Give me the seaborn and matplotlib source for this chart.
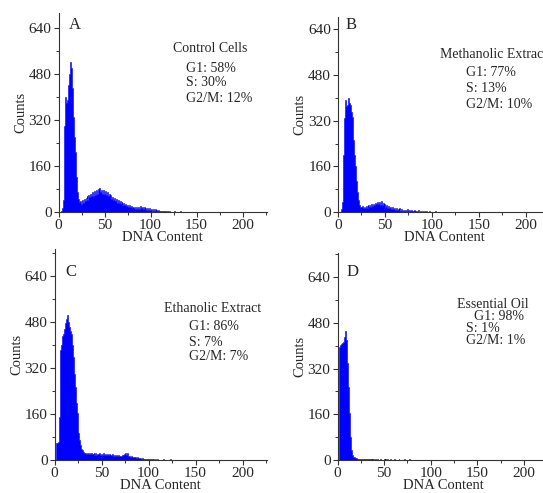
import numpy as np
import pandas as pd
import matplotlib
matplotlib.use("Agg")
import matplotlib.pyplot as plt
from matplotlib.ticker import MultipleLocator
import seaborn as sns

# ---------------- data (counts per DNA-content channel, channels 0..149) ----------------
control_counts = [
    0, 0, 0, 5, 15, 40, 120, 300, 400, 380,
    390, 440, 480, 523, 500, 430, 330, 260, 210, 170,
    120, 70, 45, 35, 38, 28, 42, 33, 46, 38,
    50, 54, 42, 60, 52, 64, 54, 68, 56, 72,
    60, 76, 64, 80, 66, 82, 68, 78, 62, 76,
    64, 74, 58, 68, 55, 62, 49, 58, 45, 52,
    41, 48, 37, 44, 33, 40, 30, 38, 28, 34,
    25, 31, 23, 29, 20, 26, 18, 23, 16, 21,
    14, 19, 13, 18, 12, 17, 11, 19, 12, 21,
    13, 19, 11, 17, 10, 15, 8, 14, 7, 13,
    6, 11, 5, 10, 5, 9, 4, 7, 3, 6,
    3, 4, 3, 3, 2, 3, 2, 2, 1, 2,
    1, 2, 0, 1, 1, 0, 2, 0, 1, 0,
    1, 0, 0, 2, 0, 1, 0, 0, 1, 0,
    0, 1, 0, 0, 1, 0, 0, 0, 1, 0,
]
methanolic_counts = [
    0, 0, 0, 0, 10, 35, 200, 330, 393, 370,
    375, 398, 380, 375, 350, 334, 300, 253, 200, 160,
    110, 70, 43, 25, 20, 18, 22, 15, 20, 14,
    22, 16, 25, 18, 24, 20, 28, 22, 30, 26,
    34, 28, 37, 30, 36, 26, 38, 24, 32, 20,
    28, 18, 25, 16, 22, 14, 20, 12, 18, 10,
    16, 9, 14, 8, 12, 7, 14, 6, 10, 5,
    9, 4, 8, 5, 10, 3, 7, 4, 8, 3,
    6, 2, 9, 3, 5, 2, 7, 1, 4, 2,
    5, 1, 3, 0, 4, 1, 2, 0, 3, 0,
    2, 0, 1, 0, 5, 0, 1, 0, 0, 1,
    0, 0, 1, 0, 0, 0, 0, 1, 0, 0,
    0, 0, 0, 1, 0, 0, 0, 0, 0, 1,
    0, 0, 0, 0, 0, 0, 1, 0, 0, 0,
    0, 0, 0, 0, 0, 0, 0, 0, 0, 0,
]
ethanolic_counts = [
    0, 0, 58, 60, 62, 150, 383, 400, 417, 430,
    440, 455, 475, 490, 504, 480, 464, 450, 440, 400,
    359, 300, 255, 200, 162, 120, 93, 70, 52, 40,
    35, 28, 25, 24, 22, 25, 20, 24, 21, 26,
    22, 20, 24, 19, 23, 18, 22, 20, 25, 18,
    22, 17, 24, 19, 21, 16, 20, 18, 22, 15,
    19, 16, 21, 14, 18, 15, 17, 13, 16, 14,
    15, 13, 18, 16, 22, 20, 24, 19, 23, 15,
    14, 12, 13, 10, 12, 9, 11, 8, 10, 7,
    8, 6, 7, 5, 6, 4, 5, 4, 4, 3,
    3, 3, 2, 3, 2, 2, 1, 2, 1, 1,
    2, 1, 1, 1, 0, 1, 2, 0, 1, 0,
    1, 0, 1, 2, 0, 1, 0, 0, 1, 0,
    0, 1, 0, 0, 1, 0, 0, 1, 0, 0,
    0, 0, 1, 0, 0, 0, 0, 0, 1, 0,
]
oil_counts = [
    0, 0, 396, 402, 405, 408, 412, 420, 430, 450,
    420, 338, 256, 163, 82, 35, 17, 12, 9, 8,
    6, 5, 4, 5, 3, 4, 3, 2, 3, 4,
    3, 2, 3, 2, 2, 3, 2, 1, 2, 2,
    1, 2, 1, 2, 1, 1, 2, 1, 0, 1,
    2, 1, 3, 1, 2, 1, 1, 2, 1, 1,
    1, 2, 1, 1, 0, 1, 2, 1, 1, 0,
    1, 1, 2, 1, 0, 1, 1, 2, 1, 0,
    1, 0, 1, 1, 0, 1, 0, 1, 0, 1,
    0, 1, 0, 1, 0, 0, 1, 0, 1, 0,
    0, 1, 0, 0, 1, 0, 0, 0, 1, 0,
    0, 0, 1, 0, 0, 0, 0, 1, 0, 0,
    0, 1, 0, 0, 0, 0, 1, 0, 0, 0,
    0, 0, 0, 1, 0, 0, 0, 0, 0, 0,
    0, 0, 1, 0, 0, 0, 0, 0, 0, 0,
]

panel_letters = ["A", "B", "C", "D"]
panel_titles = ["Control Cells", "Methanolic Extract", "Ethanolic Extract", "Essential Oil"]
g1_pct = [58, 77, 86, 98]
s_pct = [30, 13, 7, 1]
g2m_pct = [12, 10, 7, 1]
y_ticks = [0, 160, 320, 480, 640]
x_ticks = [0, 50, 100, 150, 200]

# ---------------- figure ----------------
W, H = 543, 493
sns.set_style("ticks")
plt.rcParams["font.family"] = ["Liberation Serif", "DejaVu Serif"]
plt.rcParams["axes.linewidth"] = 0.8

fig = plt.figure(figsize=(W / 100, H / 100), dpi=100)

def fx(px):
    return px / W

def fy(py):
    return 1 - py / H

# axes boxes in pixels: left, x-axis y, top, right ; xlim max, ylim max
boxes = [
    (58.5, 212, 13, 267, 226.6, 692),
    (338, 212.3, 17, 551, 227, 682),
    (54.5, 460, 249, 267, 226, 734),
    (337.5, 460, 253, 549, 227, 724),
]
series = [control_counts, methanolic_counts, ethanolic_counts, oil_counts]

# text positions in pixels: letter (x,y), title (x,y), lines x, lines ys
text_pos = [
    ((69, 25), (173, 48), 186, [68, 83, 98]),
    ((346, 25), (440, 54), 466, [73, 89, 105]),
    ((65, 272), (164, 309), 189, [327, 342, 357]),
    ((347, 272), (457, 304), (474, 466, 466), [316, 328, 341]),
]

for i in range(4):
    l, yb, yt, r, xmax, ymax = boxes[i]
    ax = fig.add_axes([fx(l), fy(yb), fx(r - l), (yb - yt) / H])
    counts = series[i]
    df = pd.DataFrame({"channel": np.arange(len(counts)), "count": counts})
    sns.histplot(data=df, x="channel", weights="count", discrete=True,
                 element="step", fill=True, color="#0000ff", alpha=1,
                 linewidth=0.4, edgecolor="#0000ff", ax=ax)
    ax.set_xlim(0, xmax)
    ax.set_ylim(0, ymax)
    ax.set_xticks(x_ticks)
    ax.set_yticks(y_ticks)
    ax.xaxis.set_minor_locator(MultipleLocator(25))
    ax.yaxis.set_minor_locator(MultipleLocator(80))
    ax.tick_params(which="major", length=3.5, width=0.8, labelsize=11,
                   pad=1.5, color="#333333")
    ax.tick_params(which="minor", length=2, width=0.7, color="#333333")
    for s in ["left", "bottom"]:
        ax.spines[s].set_color("#333333")
    sns.despine(ax=ax)
    ax.set_xlabel("DNA Content", fontsize=10.5, labelpad=-1)
    ax.set_ylabel("Counts", fontsize=10.5, labelpad=1)

    (lx, ly), (tx, ty), linex, ys = text_pos[i]
    fig.text(fx(lx), fy(ly), panel_letters[i], fontsize=12, ha="left", va="center")
    fig.text(fx(tx), fy(ty), panel_titles[i], fontsize=10, ha="left", va="center")
    if not isinstance(linex, tuple):
        linex = (linex, linex, linex)
    lines = [f"G1: {g1_pct[i]}%", f"S: {s_pct[i]}%", f"G2/M: {g2m_pct[i]}%"]
    for xx, yy, txt in zip(linex, ys, lines):
        fig.text(fx(xx), fy(yy), txt, fontsize=10, ha="left", va="center")

fig.savefig("out.png", dpi=100)
